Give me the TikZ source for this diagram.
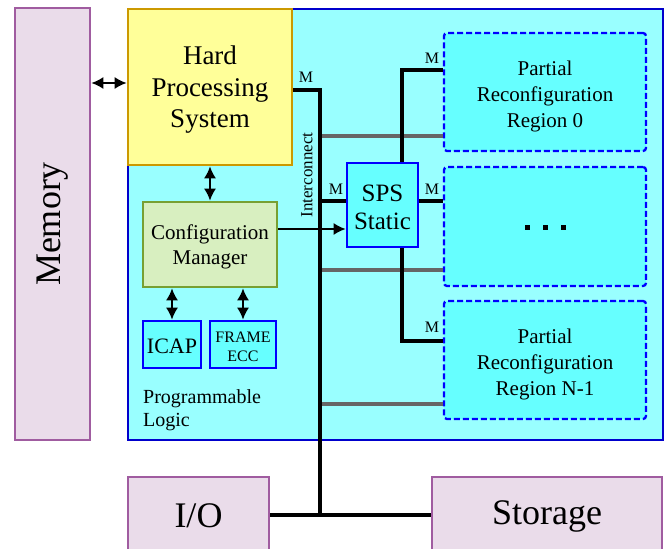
\documentclass[tikz,border=0pt]{standalone}
\usepackage{fontspec}
\setmainfont{Liberation Serif}
\usetikzlibrary{arrows.meta,calc}

\definecolor{plfill}{HTML}{99FFFF}
\definecolor{pldraw}{HTML}{0000CC}
\definecolor{hpsfill}{HTML}{FFFF99}
\definecolor{hpsdraw}{HTML}{CC9900}
\definecolor{cmfill}{HTML}{D8EFC0}
\definecolor{cmdraw}{HTML}{77A033}
\definecolor{blkfill}{HTML}{66FFFF}
\definecolor{blkdraw}{HTML}{0000FF}
\definecolor{extfill}{HTML}{EADCEA}
\definecolor{extdraw}{HTML}{A05CA0}
\definecolor{busgray}{HTML}{666666}

\newcommand{\fs}[2]{\fontsize{#1}{#2}\selectfont}

\tikzset{
  box/.style={rectangle, inner sep=0pt, line width=2.6pt},
  extbox/.style={box, draw=extdraw, fill=extfill},
  blkbox/.style={box, draw=blkdraw, fill=blkfill},
  prbox/.style={box, draw=blkdraw, fill=blkfill, dashed, dash pattern=on 6pt off 3pt,
                line width=2.3pt, rounded corners=3pt},
  txt/.style={inner sep=0pt, align=center},
  bus/.style={line width=4.6pt, black},
  graybus/.style={line width=4.6pt, busgray},
  dbl/.style={line width=2pt, {Latex[length=12pt,width=12pt]}-{Latex[length=12pt,width=12pt]}},
  sgl/.style={line width=2pt, -{Latex[length=12pt,width=12pt]}},
  mlabel/.style={inner sep=0pt, font=\fs{16}{16}},
  dot/.style={fill=black, inner sep=0pt, minimum size=5pt},
}

\begin{document}
\begin{tikzpicture}[x=1pt, y=-1pt]
\useasboundingbox (0,0) rectangle (668,548);
\clip (0,0) rectangle (668,548);

% programmable logic area and the external blocks
\node[box, draw=pldraw, fill=plfill, minimum width=535pt, minimum height=431pt] (PL) at (395.5,224.5) {};
\node[extbox, minimum width=75pt, minimum height=432pt] (Memory) at (52.5,224) {};
\node[txt, rotate=90, font=\fs{36}{40}] (MemoryText) at (Memory.center) {Memory};
\node[extbox, minimum width=141pt, minimum height=113pt] (IO) at (198.5,533.5) {};
\node[txt, font=\fs{36}{40}] (IOText) at (198.5,516) {I/O};
\node[extbox, minimum width=230pt, minimum height=113pt] (Storage) at (547,533.5) {};
\node[txt, font=\fs{36}{40}] (StorageText) at (547,516) {Storage};

% processing system and configuration blocks
\node[box, draw=hpsdraw, fill=hpsfill, minimum width=164pt, minimum height=156pt] (HPS) at (210,87) {};
\node[txt, font=\fs{27}{31.5}] (HPSText) at (210,90) {Hard\\Processing\\System};
\node[box, draw=cmdraw, fill=cmfill, minimum width=134pt, minimum height=85pt] (CM) at (210,244.5) {};
\node[txt, font=\fs{21}{25}] (CMText) at (210,247) {Configuration\\Manager};
\node[blkbox, minimum width=58pt, minimum height=47pt] (ICAP) at (172,344.5) {};
\node[txt, font=\fs{22}{24}] (ICAPText) at (172,346) {ICAP};
\node[blkbox, minimum width=66pt, minimum height=47pt] (FRAME) at (243,344.5) {};
\node[txt, font=\fs{16}{19}] (FRAMEText) at (243,347) {FRAME\\ECC};
\node[txt, anchor=west, align=left, font=\fs{20}{23}] (PLText) at (143,410) {Programmable\\Logic};

% static region and partial reconfiguration regions
\node[blkbox, minimum width=71pt, minimum height=84pt] (SPS) at (382.5,205) {};
\node[txt, font=\fs{25}{28}] (SPSText) at (382.5,207.5) {SPS\\Static};
\node[prbox, minimum width=202pt, minimum height=118pt] (PR0) at (545,92) {};
\node[txt, font=\fs{21}{26}] (PR0Text) at (545,96) {Partial\\Reconfiguration\\Region 0};
\node[prbox, minimum width=202pt, minimum height=119pt] (PR1) at (545,226.5) {};
\node[dot] (d1) at (527,227) {};
\node[dot] (d2) at (545,227) {};
\node[dot] (d3) at (563,227) {};
\node[prbox, minimum width=202pt, minimum height=118pt] (PR2) at (545,360) {};
\node[txt, font=\fs{21}{26}] (PR2Text) at (545,364) {Partial\\Reconfiguration\\Region N-1};

% bus routing points
\coordinate (icTop) at (320,90);
\coordinate (icBot) at (320,515);
\coordinate (icSPS) at (320,201);
\coordinate (spsUp) at (402,70);
\coordinate (spsDown) at (402,341);
\coordinate (g0) at (320,136);
\coordinate (g1) at (320,270);
\coordinate (g2) at (320,404);
\coordinate (memLink) at (0,83);
\coordinate (cmLink) at (0,229);

% configuration link runs underneath the interconnect
\draw[sgl] (CM.east |- cmLink) -- (SPS.west |- cmLink);

% gray configuration buses
\draw[graybus] (g0) -- (PR0.west |- g0);
\draw[graybus] (g1) -- (PR1.west |- g1);
\draw[graybus] (g2) -- (PR2.west |- g2);

% interconnect
\draw[bus] (HPS.east |- icTop) -- (icTop) -- (icBot);
\draw[bus] (IO.east |- icBot) -- (Storage.west |- icBot);
\draw[bus] (icSPS) -- (SPS.west |- icSPS);
\draw[bus] (SPS.east |- icSPS) -- (PR1.west |- icSPS);
\draw[bus] (SPS.north -| spsUp) -- (spsUp) -- (PR0.west |- spsUp);
\draw[bus] (SPS.south -| spsDown) -- (spsDown) -- (PR2.west |- spsDown);

% master port labels
\node[mlabel] (m0) at (306,77) {M};
\node[mlabel] (m1) at (336,189) {M};
\node[mlabel] (m2) at (432,189) {M};
\node[mlabel] (m3) at (432,58) {M};
\node[mlabel] (m4) at (432,327) {M};
\node[rotate=90, inner sep=0pt, font=\fs{17}{17}] (icText) at (307,175) {Interconnect};

% point-to-point links
\draw[dbl] (Memory.east |- memLink) -- (HPS.west |- memLink);
\draw[dbl] (HPS.south) -- (CM.north);
\draw[dbl] (CM.south -| ICAP) -- (ICAP.north);
\draw[dbl] (CM.south -| FRAME) -- (FRAME.north);
\end{tikzpicture}
\end{document}
